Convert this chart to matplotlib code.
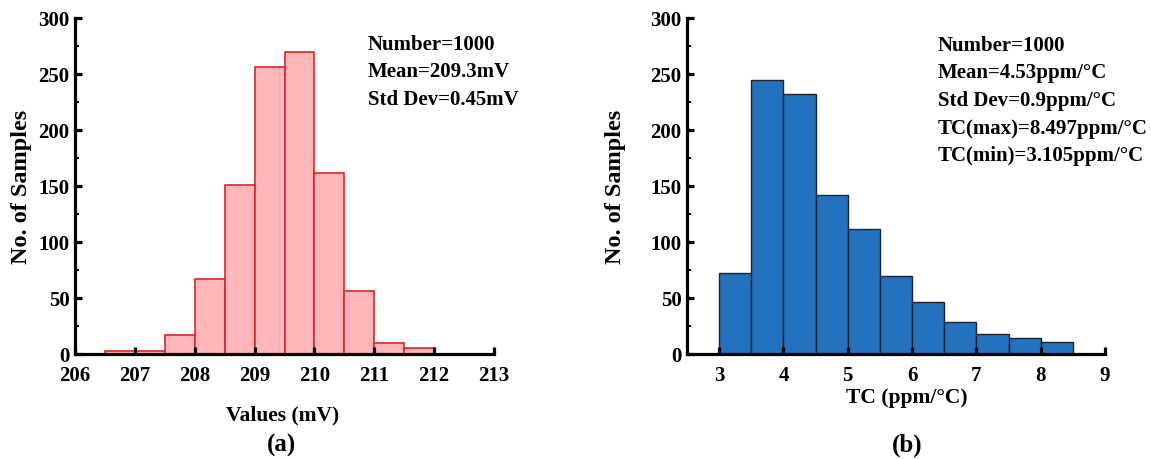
import matplotlib
matplotlib.use("Agg")
import matplotlib.pyplot as plt
from matplotlib.ticker import MultipleLocator

plt.rcParams['font.family'] = ['Liberation Serif', 'DejaVu Serif']
plt.rcParams['font.weight'] = 'bold'

# Panel (a)
a_edges = [206.5, 207.0, 207.5, 208.0, 208.5, 209.0, 209.5, 210.0, 210.5, 211.0, 211.5, 212.0]
a_counts = [3, 3, 17, 67, 151, 256, 270, 162, 56, 10, 5]
a_xticks = [206, 207, 208, 209, 210, 211, 212, 213]
a_text = ["Number=1000", "Mean=209.3mV", "Std Dev=0.45mV"]

# Panel (b)
b_edges = [3.0, 3.5, 4.0, 4.5, 5.0, 5.5, 6.0, 6.5, 7.0, 7.5, 8.0, 8.5]
b_counts = [72, 245, 232, 142, 112, 70, 46, 29, 18, 14, 11]
b_xticks = [3, 4, 5, 6, 7, 8, 9]
b_text = ["Number=1000", "Mean=4.53ppm/\u00b0C", "Std Dev=0.9ppm/\u00b0C",
          "TC(max)=8.497ppm/\u00b0C", "TC(min)=3.105ppm/\u00b0C"]

yticks = [0, 50, 100, 150, 200, 250, 300]

W, H = 1151, 460
fig = plt.figure(figsize=(W / 100, H / 100), dpi=100)

def px_axes(l, r, t, b):
    return fig.add_axes([l / W, 1 - b / H, (r - l) / W, (b - t) / H])

ax1 = px_axes(75, 494, 19, 355)
ax2 = px_axes(687, 1105, 19, 355)

def style(ax, xlim, xticks, ylab_x):
    ax.set_xlim(*xlim)
    ax.set_ylim(0, 300)
    ax.set_xticks(xticks)
    ax.set_yticks(yticks)
    ax.yaxis.set_minor_locator(MultipleLocator(25))
    for s in ['top', 'right']:
        ax.spines[s].set_visible(False)
    for s in ['left', 'bottom']:
        ax.spines[s].set_linewidth(2.3)
    ax.tick_params(axis='both', which='major', direction='in', width=2.3, length=5,
                   labelsize=15)
    ax.tick_params(axis='x', which='major', pad=8)
    ax.tick_params(axis='y', which='major', pad=4)
    ax.tick_params(axis='y', which='minor', direction='in', width=1.5, length=3)
    for lab in ax.get_xticklabels() + ax.get_yticklabels():
        lab.set_fontweight('bold')
    ax.set_ylabel("No. of Samples", fontsize=17.5, fontweight='bold')
    ax.yaxis.set_label_coords(ylab_x, 0.5)
    ax.yaxis.label.set_va('center')

ax1.hist(a_edges[:-1], bins=a_edges, weights=a_counts, color='#ffb6b9',
         edgecolor='#d9262c', linewidth=1.2)
style(ax1, (206, 213), a_xticks, (22 - 75) / 419)
ax1.set_xlabel("Values (mV)", fontsize=15.5, fontweight='bold')
ax1.xaxis.set_label_coords(0.495, (355 - 415) / 336)
ax1.xaxis.label.set_va('center')
for i, t in enumerate(a_text):
    ax1.text((368 - 75) / 419, 0.923 - i * 0.082, t, transform=ax1.transAxes,
             fontsize=15, fontweight='bold', va='center', ha='left')

ax2.hist(b_edges[:-1], bins=b_edges, weights=b_counts, color='#2272be',
         edgecolor='#1c2433', linewidth=1.0)
style(ax2, (2.5, 9), b_xticks, (616 - 687) / 418)
ax2.set_xlabel("TC (ppm/\u00b0C)", fontsize=15.5, fontweight='bold')
ax2.xaxis.set_label_coords((907 - 687) / 418, (355 - 398) / 336)
ax2.xaxis.label.set_va('center')
for i, t in enumerate(b_text):
    ax2.text((938 - 687) / 418, 0.920 - i * 0.082, t, transform=ax2.transAxes,
             fontsize=15, fontweight='bold', va='center', ha='left')

fig.text(282 / W, 1 - 445 / H, "(a)", fontsize=18, fontweight='bold', ha='center', va='center')
fig.text(907 / W, 1 - 445 / H, "(b)", fontsize=18, fontweight='bold', ha='center', va='center')

fig.savefig("out.png", dpi=100)
